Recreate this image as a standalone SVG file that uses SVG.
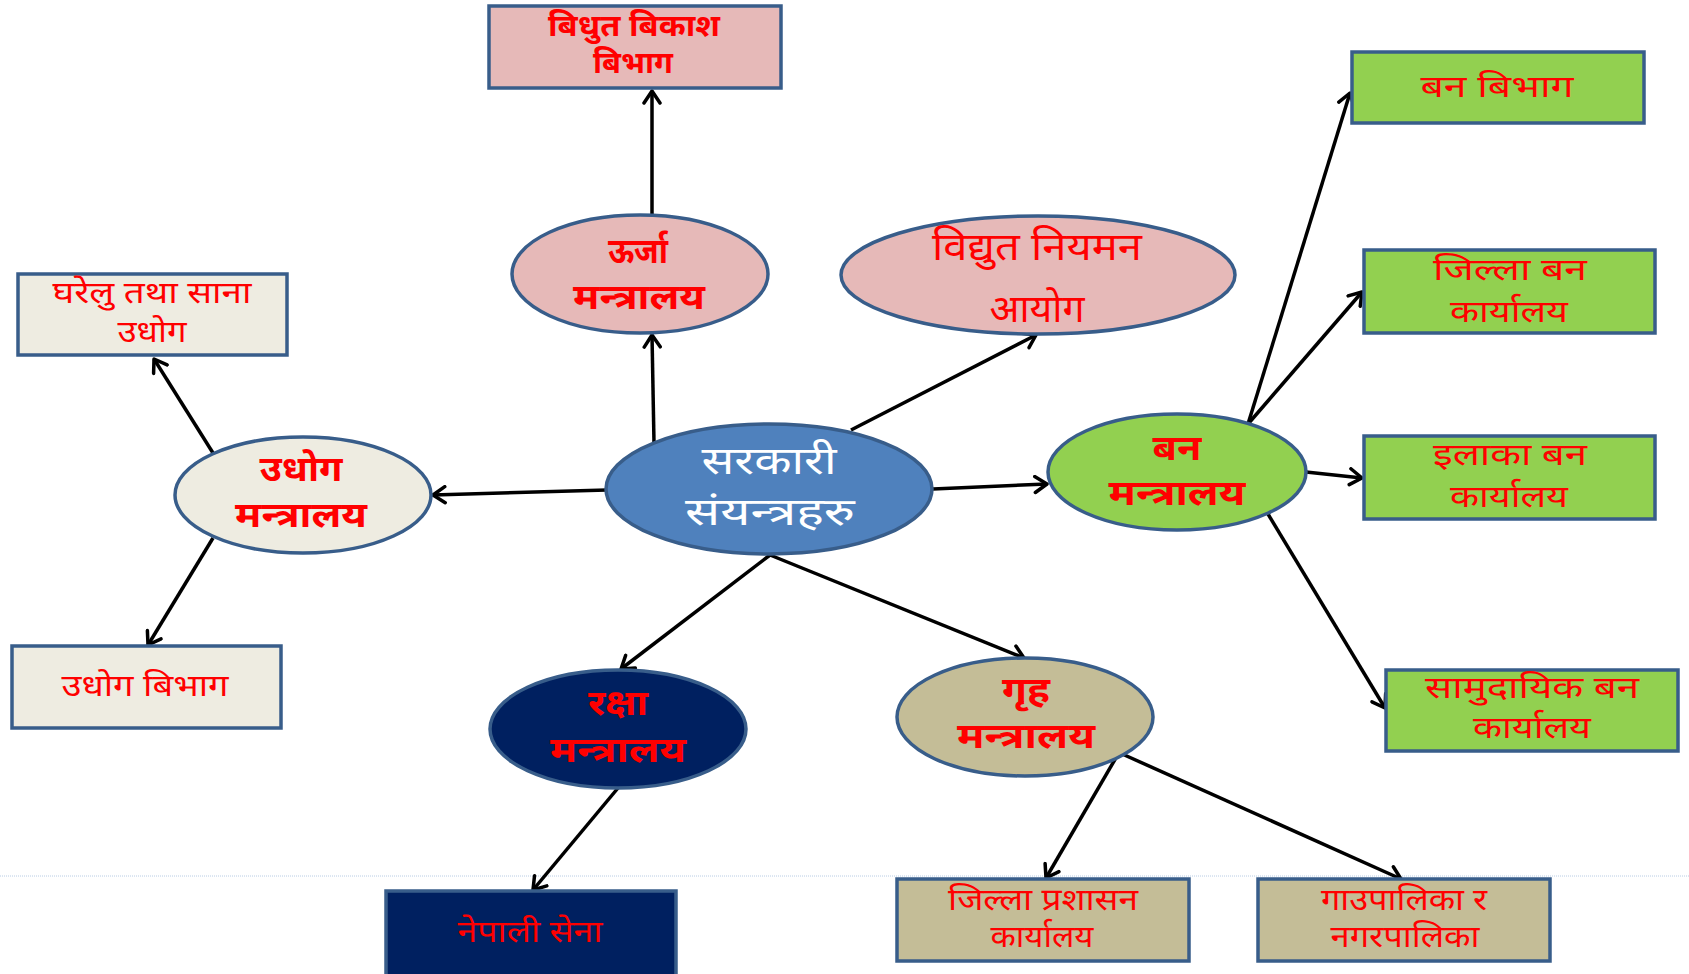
<svg xmlns="http://www.w3.org/2000/svg" width="1689" height="974" viewBox="0 0 1689 974">
<style>
  .shape { stroke: #385d8a; stroke-width: 3.5; }
  .pink { fill: #e6b9b8; }
  .beige { fill: #eeece1; }
  .green { fill: #92d050; }
  .navy { fill: #002060; }
  .tan { fill: #c4bd97; }
  .blue { fill: #4f81bd; }
  text { font-family: "Noto Sans", "Noto Sans Devanagari", "Lohit Devanagari", sans-serif; text-anchor: middle; fill: #ff0000; }
  .big { font-size: 35px; font-weight: bold; }
  .mid { font-size: 38px; }
  .box { font-size: 30px; }
  .boxb { font-size: 30px; font-weight: bold; }
  .center { font-size: 39px; fill: #ffffff; }
  .conn line { stroke: #000000; stroke-width: 3.5; marker-end: url(#arr); }
</style>
<defs>
  <marker id="arr" markerUnits="userSpaceOnUse" markerWidth="18" markerHeight="20" refX="14" refY="10" orient="auto" viewBox="0 0 18 20">
    <path d="M2,2 L14,10 L2,18" fill="none" stroke="#000000" stroke-width="3.5" stroke-linecap="round" stroke-linejoin="round"/>
  </marker>
</defs>
<rect width="1689" height="974" fill="#ffffff"/>
<line x1="0" y1="876" x2="1689" y2="876" stroke="#b8cce4" stroke-width="1" stroke-dasharray="1,1"/>

<g id="connectors" class="conn">
  <line x1="654" y1="443" x2="652" y2="335"/>
  <line x1="652" y1="215" x2="652" y2="91"/>
  <line x1="851" y1="430" x2="1036" y2="335"/>
  <line x1="607" y1="490" x2="433" y2="495"/>
  <line x1="213" y1="453" x2="154" y2="359"/>
  <line x1="213" y1="538" x2="148" y2="645"/>
  <line x1="933" y1="489" x2="1047" y2="484"/>
  <line x1="1248" y1="424" x2="1350" y2="93"/>
  <line x1="1248" y1="424" x2="1362" y2="292"/>
  <line x1="1306" y1="472" x2="1362" y2="478"/>
  <line x1="1268" y1="514" x2="1385" y2="708"/>
  <line x1="770" y1="555" x2="621" y2="669"/>
  <line x1="770" y1="555" x2="1024" y2="658"/>
  <line x1="618" y1="788" x2="533" y2="890"/>
  <line x1="1117" y1="756" x2="1046" y2="878"/>
  <line x1="1120" y1="753" x2="1401" y2="879"/>
</g>

<g id="n-bidhut-bikash">
  <rect class="shape pink" x="489" y="6" width="292" height="82"/>
  <text class="boxb" x="634" y="36" textLength="172" lengthAdjust="spacingAndGlyphs">बिधुत बिकाश</text>
  <text class="boxb" x="633" y="73" textLength="80" lengthAdjust="spacingAndGlyphs">बिभाग</text>
</g>
<g id="n-urja">
  <ellipse class="shape pink" cx="640" cy="274" rx="128" ry="59"/>
  <text class="big" x="638" y="263" textLength="60" lengthAdjust="spacingAndGlyphs">ऊर्जा</text>
  <text class="big" x="639" y="309" textLength="132" lengthAdjust="spacingAndGlyphs">मन्त्रालय</text>
</g>
<g id="n-niyaman">
  <ellipse class="shape pink" cx="1038" cy="275" rx="197" ry="59"/>
  <text class="mid" x="1037" y="260" textLength="210" lengthAdjust="spacingAndGlyphs">विद्युत नियमन</text>
  <text class="mid" x="1037" y="322" textLength="95" lengthAdjust="spacingAndGlyphs">आयोग</text>
</g>
<g id="n-gharelu">
  <rect class="shape beige" x="18" y="274" width="269" height="81"/>
  <text class="box" x="152" y="303" textLength="199" lengthAdjust="spacingAndGlyphs">घरेलु तथा साना</text>
  <text class="box" x="152" y="342" textLength="69" lengthAdjust="spacingAndGlyphs">उधोग</text>
</g>
<g id="n-udhog-mantralaya">
  <ellipse class="shape beige" cx="303" cy="495" rx="128" ry="58"/>
  <text class="big" x="301" y="481" textLength="83" lengthAdjust="spacingAndGlyphs">उधोग</text>
  <text class="big" x="301" y="527" textLength="132" lengthAdjust="spacingAndGlyphs">मन्त्रालय</text>
</g>
<g id="n-sarkari">
  <ellipse class="shape blue" cx="769" cy="489" rx="163" ry="65"/>
  <text class="center" x="769" y="474" textLength="135" lengthAdjust="spacingAndGlyphs">सरकारी</text>
  <text class="center" x="770" y="525" textLength="170" lengthAdjust="spacingAndGlyphs">संयन्त्रहरु</text>
</g>
<g id="n-ban-mantralaya">
  <ellipse class="shape green" cx="1177" cy="472" rx="129" ry="58"/>
  <text class="big" x="1177" y="460" textLength="49" lengthAdjust="spacingAndGlyphs">बन</text>
  <text class="big" x="1177" y="505" textLength="137" lengthAdjust="spacingAndGlyphs">मन्त्रालय</text>
</g>
<g id="n-ban-bibhag">
  <rect class="shape green" x="1352" y="52" width="292" height="71"/>
  <text class="box" x="1497" y="97" textLength="153" lengthAdjust="spacingAndGlyphs">बन बिभाग</text>
</g>
<g id="n-jilla-ban">
  <rect class="shape green" x="1364" y="250" width="291" height="83"/>
  <text class="box" x="1510" y="280" textLength="154" lengthAdjust="spacingAndGlyphs">जिल्ला बन</text>
  <text class="box" x="1509" y="322" textLength="118" lengthAdjust="spacingAndGlyphs">कार्यालय</text>
</g>
<g id="n-ilaka-ban">
  <rect class="shape green" x="1364" y="436" width="291" height="83"/>
  <text class="box" x="1510" y="465" textLength="154" lengthAdjust="spacingAndGlyphs">इलाका बन</text>
  <text class="box" x="1509" y="507" textLength="118" lengthAdjust="spacingAndGlyphs">कार्यालय</text>
</g>
<g id="n-samudayik-ban">
  <rect class="shape green" x="1386" y="670" width="292" height="81"/>
  <text class="box" x="1532" y="698" textLength="214" lengthAdjust="spacingAndGlyphs">सामुदायिक बन</text>
  <text class="box" x="1532" y="738" textLength="118" lengthAdjust="spacingAndGlyphs">कार्यालय</text>
</g>
<g id="n-udhog-bibhag">
  <rect class="shape beige" x="12" y="646" width="269" height="82"/>
  <text class="box" x="145" y="696" textLength="167" lengthAdjust="spacingAndGlyphs">उधोग बिभाग</text>
</g>
<g id="n-raksha">
  <ellipse class="shape navy" cx="618" cy="729" rx="128" ry="59"/>
  <text class="big" x="618" y="715" textLength="60" lengthAdjust="spacingAndGlyphs">रक्षा</text>
  <text class="big" x="618" y="762" textLength="136" lengthAdjust="spacingAndGlyphs">मन्त्रालय</text>
</g>
<g id="n-griha">
  <ellipse class="shape tan" cx="1025" cy="717" rx="128" ry="59"/>
  <text class="big" x="1026" y="702" textLength="48" lengthAdjust="spacingAndGlyphs">गृह</text>
  <text class="big" x="1026" y="748" textLength="138" lengthAdjust="spacingAndGlyphs">मन्त्रालय</text>
</g>
<g id="n-nepali-sena">
  <rect class="shape navy" x="386" y="891" width="290" height="86"/>
  <text class="box" x="530" y="942" textLength="145" lengthAdjust="spacingAndGlyphs">नेपाली सेना</text>
</g>
<g id="n-jilla-prashasan">
  <rect class="shape tan" x="897" y="879" width="292" height="82"/>
  <text class="box" x="1043" y="910" textLength="190" lengthAdjust="spacingAndGlyphs">जिल्ला प्रशासन</text>
  <text class="box" x="1042" y="947" textLength="103" lengthAdjust="spacingAndGlyphs">कार्यालय</text>
</g>
<g id="n-gaupalika">
  <rect class="shape tan" x="1258" y="879" width="292" height="82"/>
  <text class="box" x="1404" y="910" textLength="166" lengthAdjust="spacingAndGlyphs">गाउपालिका र</text>
  <text class="box" x="1405" y="947" textLength="149" lengthAdjust="spacingAndGlyphs">नगरपालिका</text>
</g>
</svg>
